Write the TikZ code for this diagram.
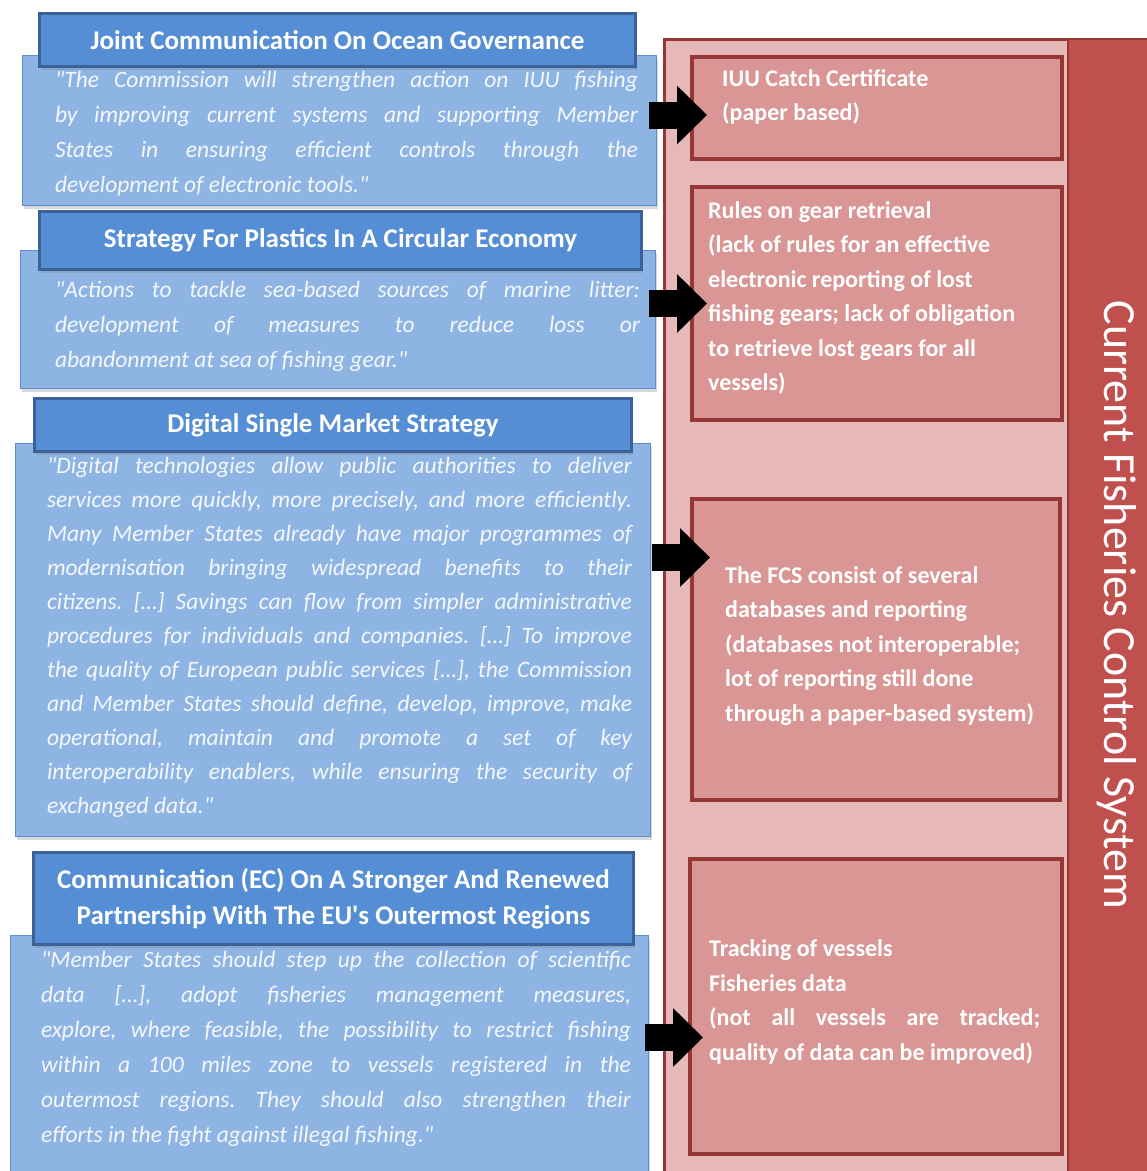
\documentclass[tikz,border=0pt]{standalone}
\usepackage{fontspec}
\setmainfont{Carlito}
\usetikzlibrary{arrows.meta,calc,shadows}

\definecolor{titleblue}{HTML}{558ED5}
\definecolor{titleedge}{HTML}{3A6298}
\definecolor{quoteblue}{HTML}{8EB4E3}
\definecolor{quoteedge}{HTML}{5B8CCB}
\definecolor{quotewhite}{HTML}{F4F7FC}
\definecolor{panelpink}{HTML}{E6B9B8}
\definecolor{paneledge}{HTML}{953735}
\definecolor{itempink}{HTML}{D99694}
\definecolor{stripred}{HTML}{C0504D}

\hyphenpenalty=10000
\exhyphenpenalty=10000
\tolerance=10000
\frenchspacing

\begin{document}
\begin{tikzpicture}[x=1pt,y=-1pt,
  titlebox/.style={draw=titleedge,line width=3pt,fill=titleblue,text=white,
    font=\fontsize{27}{36}\selectfont\bfseries,align=center,anchor=north west,inner sep=0pt,
    drop shadow={shadow xshift=1pt,shadow yshift=-3pt,opacity=0.3}},
  quotebox/.style={draw=quoteedge,line width=1.2pt,fill=quoteblue,anchor=north west,inner sep=0pt,
    drop shadow={shadow xshift=1pt,shadow yshift=-3pt,opacity=0.3}},
  quotepara/.style={text=quotewhite,font=\fontsize{23.5}{35}\selectfont\itshape,align=justify,inner sep=0pt},
  itembox/.style={draw=paneledge,line width=4pt,fill=itempink,anchor=north west,inner sep=0pt},
  itemtext/.style={text=white,font=\fontsize{24}{34.5}\selectfont\bfseries,align=left,anchor=west,inner sep=0pt},
  fatarrow/.style={line width=27pt,-{Triangle[width=57pt,length=30pt]}}]
\useasboundingbox (0,0) rectangle (1147,1171);
\clip (0,0) rectangle (1147,1171);

% right panel
\node[draw=paneledge,line width=3pt,fill=panelpink,anchor=north west,
  minimum width=520pt,minimum height=1160pt] (fcs) at (663,38) {};
\node[draw=paneledge,line width=2pt,fill=stripred,anchor=north west,
  minimum width=100pt,minimum height=1160pt] (strip) at (1067,38) {};
\node[text=white,font=\fontsize{46}{46}\selectfont,rotate=-90] (fcslabel) at (1117,605)
  {Current Fisheries Control System};

\node[itembox,minimum width=370pt,minimum height=102pt] (ra) at (690,55) {};
\node[itembox,minimum width=370pt,minimum height=233pt] (rb) at (690,185) {};
\node[itembox,minimum width=368pt,minimum height=301pt] (rc) at (690,497) {};
\node[itembox,minimum width=372pt,minimum height=295pt] (rd) at (688,857) {};

\node[itemtext] (rat) at (722,97) {IUU Catch Certificate\\(paper based)};
\node[itemtext] (rbt) at (708,298) {Rules on gear retrieval\\(lack of rules for an effective\\
  electronic reporting of lost\\fishing gears; lack of obligation\\to retrieve lost gears for all\\vessels)};
\node[itemtext] (rct) at (725,646) {The FCS consist of several\\databases and reporting\\
  (databases not interoperable;\\lot of reporting still done\\through a paper-based system)};
\node[itemtext,align=justify,text width=331pt] (rdt) at (709,1002) {Tracking of vessels\\Fisheries data\\
  (not all vessels are tracked;\linebreak quality of data can be improved)};

% left column
\node[quotebox,minimum width=634pt,minimum height=150pt] (q1) at (22,55) {};
\node[quotepara,text width=583pt] (q1t) at (346.5,134) {\textquotedbl The Commission will strengthen action on IUU fishing\linebreak
  by improving current systems and supporting Member\linebreak
  States in ensuring efficient controls through the\linebreak
  development of electronic tools.\textquotedbl};
\node[titlebox,minimum width=596pt,minimum height=53pt] (t1) at (38,12) {Joint Communication On Ocean Governance};

\node[quotebox,minimum width=635pt,minimum height=138pt] (q2) at (20,250) {};
\node[quotepara,text width=585pt] (q2t) at (347.5,326) {\textquotedbl Actions to tackle sea-based sources of marine litter:\linebreak
  development of measures to reduce loss or\linebreak
  abandonment at sea of fishing gear.\textquotedbl};
\node[titlebox,minimum width=602pt,minimum height=58pt] (t2) at (38,210) {Strategy For Plastics In A Circular Economy};

\node[quotebox,minimum width=635pt,minimum height=393pt] (q3) at (15,443) {};
\node[quotepara,text width=585pt,font=\fontsize{23.5}{34}\selectfont\itshape] (q3t) at (339.5,637)
  {\textquotedbl Digital technologies allow public authorities to deliver\linebreak
  services more quickly, more precisely, and more efficiently.\linebreak
  Many Member States already have major programmes of\linebreak
  modernisation bringing widespread benefits to their\linebreak
  citizens. […] Savings can flow from simpler administrative\linebreak
  procedures for individuals and companies. […] To improve\linebreak
  the quality of European public services […], the Commission\linebreak
  and Member States should define, develop, improve, make\linebreak
  operational, maintain and promote a set of key\linebreak
  interoperability enablers, while ensuring the security of\linebreak
  exchanged data.\textquotedbl};
\node[titlebox,minimum width=597pt,minimum height=53pt] (t3) at (33,397) {Digital Single Market Strategy};

\node[quotebox,minimum width=638pt,minimum height=260pt] (q4) at (10,935) {};
\node[quotepara,text width=590pt] (q4t) at (336,1049) {\textquotedbl Member States should step up the collection of scientific\linebreak
  data […], adopt fisheries management measures,\linebreak
  explore, where feasible, the possibility to restrict fishing\linebreak
  within a 100 miles zone to vessels registered in the\linebreak
  outermost regions. They should also strengthen their\linebreak
  efforts in the fight against illegal fishing.\textquotedbl};
\node[titlebox,minimum width=600pt,minimum height=92pt] (t4) at (32,851)
  {Communication (EC) On A Stronger And Renewed\\Partnership With The EU\textquotesingle s Outermost Regions};

% arrows
\draw[fatarrow] ($(q1.east |- ra.west)+(-8,7)$) -- ($(ra.west)+(17,7)$);
\draw[fatarrow] ($(q2.east |- rb.west)+(-7,0)$) -- ($(rb.west)+(17,0)$);
\draw[fatarrow] ($(q3.east |- rc.west)+(1,-92)$) -- ($(rc.west)+(20,-92)$);
\draw[fatarrow] ($(q4.east |- rd.west)+(-4,31)$) -- ($(rd.west)+(15,31)$);

\end{tikzpicture}
\end{document}
